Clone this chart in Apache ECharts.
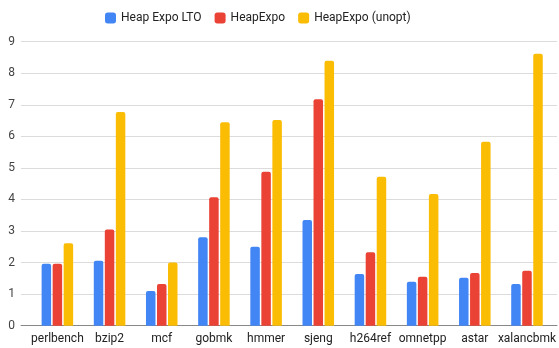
<!DOCTYPE html>
<html>
<head>
<meta charset="utf-8">
<script src="https://cdn.jsdelivr.net/npm/echarts@6/dist/echarts.min.js"></script>
<style>
  html, body { margin: 0; padding: 0; background: #fff; }
  #chart { width: 559px; height: 348px; }
</style>
</head>
<body>
<div id="chart"></div>
<script>
// Benchmarks and measured overhead for each build
const benchmarks = ['perlbench', 'bzip2', 'mcf', 'gobmk', 'hmmer', 'sjeng', 'h264ref', 'omnetpp', 'astar', 'xalancbmk'];
const seriesNames = ['Heap Expo LTO', 'HeapExpo', 'HeapExpo (unopt)'];
const heapExpoLTO = [1.96, 2.06, 1.10, 2.80, 2.50, 3.35, 1.64, 1.39, 1.52, 1.32];
const heapExpo = [1.96, 3.05, 1.32, 4.07, 4.88, 7.18, 2.33, 1.55, 1.67, 1.74];
const heapExpoUnopt = [2.61, 6.77, 2.00, 6.45, 6.52, 8.40, 4.72, 4.17, 5.83, 8.62];
const yTicks = [0, 1, 2, 3, 4, 5, 6, 7, 8, 9];

const colors = ['#4285F4', '#EA4335', '#FBBC04'];
const values = [heapExpoLTO, heapExpo, heapExpoUnopt];
const font = 'Roboto, Arial, sans-serif';

const chart = echarts.init(document.getElementById('chart'));
chart.setOption({
  animation: false,
  color: colors,
  legend: {
    top: 7,
    left: 100,
    itemWidth: 11,
    itemHeight: 11,
    itemGap: 13,
    icon: 'roundRect',
    textStyle: { fontFamily: font, fontSize: 12, color: '#222' },
    data: seriesNames
  },
  grid: [
    // background grid: gridlines and baseline
    { left: 21, right: 2, top: 41.7, bottom: 22.3 },
    // bar area
    { left: 31.3, right: 4.5, top: 41.7, bottom: 22.3 }
  ],
  xAxis: [
    {
      gridIndex: 0, type: 'category', data: [''],
      axisLine: { show: true, lineStyle: { color: '#888', width: 1 } },
      axisTick: { show: false }, axisLabel: { show: false }
    },
    {
      gridIndex: 1, type: 'category', data: benchmarks,
      axisLine: { show: false }, axisTick: { show: false },
      axisLabel: { margin: 7, fontFamily: font, fontSize: 12, color: '#222', interval: 0 }
    }
  ],
  yAxis: [
    {
      gridIndex: 0, type: 'value', min: yTicks[0], max: yTicks[yTicks.length - 1], interval: 1,
      axisLine: { show: false }, axisTick: { show: false },
      axisLabel: { margin: 6, fontFamily: font, fontSize: 12, color: '#444' },
      splitLine: { lineStyle: { color: '#dcdcdc', width: 1 } }
    },
    {
      gridIndex: 1, type: 'value', min: yTicks[0], max: yTicks[yTicks.length - 1], interval: 1,
      show: false, splitLine: { show: false }
    }
  ],
  series: seriesNames.map((name, i) => ({
    name: name,
    type: 'bar',
    xAxisIndex: 1,
    yAxisIndex: 1,
    data: values[i],
    barWidth: 9.5,
    barGap: '16%',
    itemStyle: { color: colors[i], borderRadius: [2, 2, 0, 0] }
  }))
});
</script>
</body>
</html>
